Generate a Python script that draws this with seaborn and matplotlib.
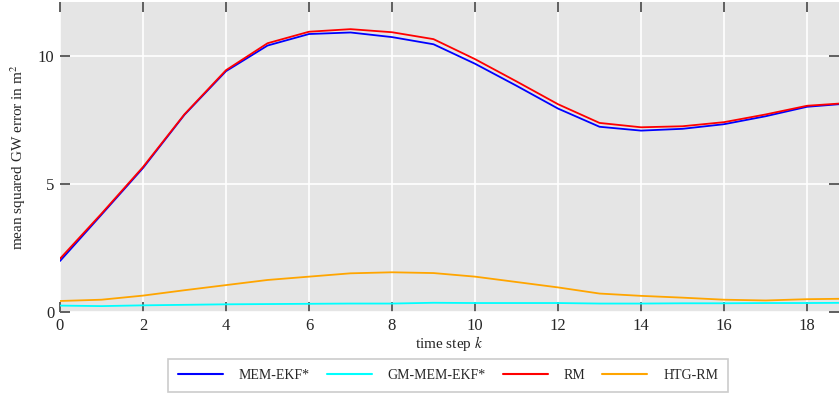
import numpy as np
import pandas as pd
import matplotlib
matplotlib.use("Agg")
import matplotlib.pyplot as plt
import seaborn as sns

# time steps and mean squared GW error per method
steps = list(range(20))
mem_ekf = [1.99, 3.80, 5.62, 7.70, 9.40, 10.40, 10.85, 10.91, 10.73, 10.45,
           9.69, 8.83, 7.94, 7.23, 7.08, 7.15, 7.33, 7.64, 8.01, 8.14]
gm_mem_ekf = [0.25, 0.23, 0.26, 0.28, 0.30, 0.31, 0.32, 0.33, 0.33, 0.36,
              0.35, 0.35, 0.35, 0.33, 0.33, 0.34, 0.34, 0.35, 0.35, 0.36]
rm = [2.08, 3.84, 5.66, 7.72, 9.44, 10.49, 10.94, 11.04, 10.92, 10.65,
      9.87, 9.00, 8.11, 7.38, 7.21, 7.25, 7.41, 7.71, 8.05, 8.16]
htg_rm = [0.43, 0.48, 0.64, 0.85, 1.05, 1.25, 1.38, 1.51, 1.55, 1.52,
          1.38, 1.17, 0.96, 0.72, 0.63, 0.56, 0.48, 0.45, 0.50, 0.52]

methods = ["MEM-EKF*", "GM-MEM-EKF*", "RM", "HTG-RM"]
colors = {"MEM-EKF*": "#0000ff", "GM-MEM-EKF*": "#00ffff",
          "RM": "#ff0000", "HTG-RM": "#ffa500"}

df = pd.concat([
    pd.DataFrame({"k": steps, "err": vals, "method": name})
    for name, vals in zip(methods, [mem_ekf, gm_mem_ekf, rm, htg_rm])
], ignore_index=True)

sns.set_style("darkgrid", {"axes.facecolor": "#e5e5e5", "grid.color": "white"})
plt.rcParams["font.family"] = ["Liberation Serif", "DejaVu Serif"]
plt.rcParams["mathtext.fontset"] = "stix"

fig = plt.figure(figsize=(8.39, 3.96), dpi=100)
ax = fig.add_axes([60 / 839, 1 - 312 / 396, 1 - 60 / 839, 310 / 396])

sns.lineplot(data=df, x="k", y="err", hue="method", hue_order=methods,
             palette=colors, linewidth=1.3, ax=ax, legend=True)

ax.set_xlim(0, 18.77)
ax.set_ylim(0, 12.1)
ax.set_xticks(range(0, 19, 2))
ax.set_yticks([0, 5, 10])
ax.grid(True, color="white", linewidth=1.2)
for s in ax.spines.values():
    s.set_visible(False)
ax.tick_params(axis="both", which="both", direction="in", length=7, width=1.2,
               color="#444444", labelsize=12, top=True, right=True,
               bottom=True, left=True, pad=4)
ax.set_xlabel("time step $k$", fontsize=11, labelpad=0)
ax.set_ylabel("mean squared GW error in m$^2$", fontsize=11, labelpad=7)

handles, labels = ax.get_legend_handles_labels()
ax.get_legend().remove()
leg = fig.legend(handles, labels, loc="center", bbox_to_anchor=(448 / 839, 1 - 375.5 / 396),
                 ncol=4, fontsize=10, handlelength=3.25, handletextpad=1.15,
                 columnspacing=1.2, frameon=True, fancybox=False,
                 borderpad=0.7, facecolor="white", framealpha=1,
                 edgecolor="#cccccc")
leg.get_frame().set_linewidth(1.2)
for line in leg.get_lines():
    line.set_linewidth(1.5)

fig.savefig("out.png", dpi=100)
